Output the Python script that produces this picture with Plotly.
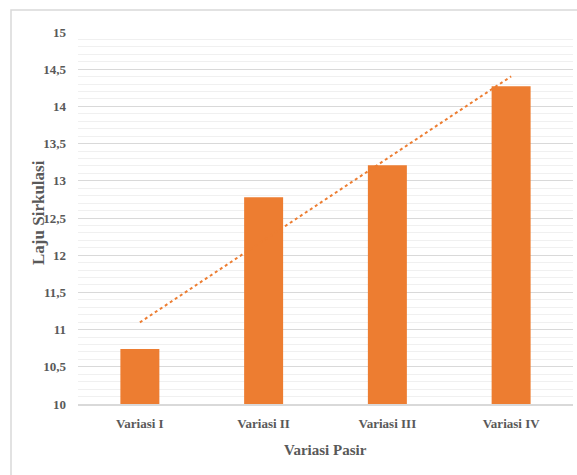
import numpy as np
import plotly.graph_objects as go

categories = ["Variasi I", "Variasi II", "Variasi III", "Variasi IV"]
values = [10.74, 12.78, 13.21, 14.27]

# Linear trendline (as Excel's trendline), fitted to the bar values
xs = np.arange(1, len(values) + 1)
slope, intercept = np.polyfit(xs, values, 1)
trend = list(slope * xs + intercept)

ORANGE = "#ed7d31"
TEXT = "#595959"
FONT = "Liberation Serif"

fig = go.Figure()
fig.add_trace(go.Bar(x=categories, y=values, marker=dict(color=ORANGE, line=dict(width=0)),
                     showlegend=False))
fig.add_trace(go.Scatter(x=categories, y=trend, mode="lines",
                         line=dict(color=ORANGE, width=2, dash="dot"), showlegend=False))

W, H = 577, 475
L, R, T, B = 78, 4, 32, 71
pw, ph = W - L - R, H - T - B

def px(x):
    return (x - L) / pw

def py(y):
    return 1 - (y - T) / ph

fig.update_layout(
    width=W, height=H,
    margin=dict(l=L, r=R, t=T, b=B),
    paper_bgcolor="white", plot_bgcolor="white",
    separators=",.",
    bargap=0.685,
    font=dict(family=FONT, color=TEXT, size=13),
    xaxis=dict(
        showgrid=False, showline=True, linecolor="#d9d9d9", linewidth=1.5,
        ticks="", ticklabelstandoff=7,
        tickfont=dict(family=FONT, size=13, color=TEXT, weight="bold"),
    ),
    yaxis=dict(
        range=[10, 15], dtick=0.5, tick0=10,
        showgrid=True, gridcolor="#d9d9d9", gridwidth=1,
        zeroline=False, showline=False, ticks="", ticklabelstandoff=11,
        tickfont=dict(family=FONT, size=13, color=TEXT, weight="bold"),
        minor=dict(dtick=0.1, tick0=10, showgrid=True, gridcolor="#f0f0f0", gridwidth=1),
    ),
    annotations=[
        dict(text="Variasi Pasir", xref="paper", yref="paper", x=px(325), y=py(450),
             showarrow=False, xanchor="center", yanchor="middle",
             font=dict(family=FONT, size=15, color=TEXT, weight="bold")),
        dict(text="Laju Sirkulasi", xref="paper", yref="paper", x=px(38), y=py(213),
             showarrow=False, xanchor="center", yanchor="middle", textangle=-90,
             font=dict(family=FONT, size=17, color=TEXT, weight="bold")),
    ],
    shapes=[dict(type="rect", xref="paper", yref="paper",
                 x0=px(11), x1=px(590), y0=py(490), y1=py(10),
                 line=dict(color="#d9d9d9", width=1.5), fillcolor="rgba(0,0,0,0)", layer="below")],
)

fig.write_html("out.html", config={"displayModeBar": False},
               post_script="document.body.style.margin='0';document.body.style.padding='0';")
